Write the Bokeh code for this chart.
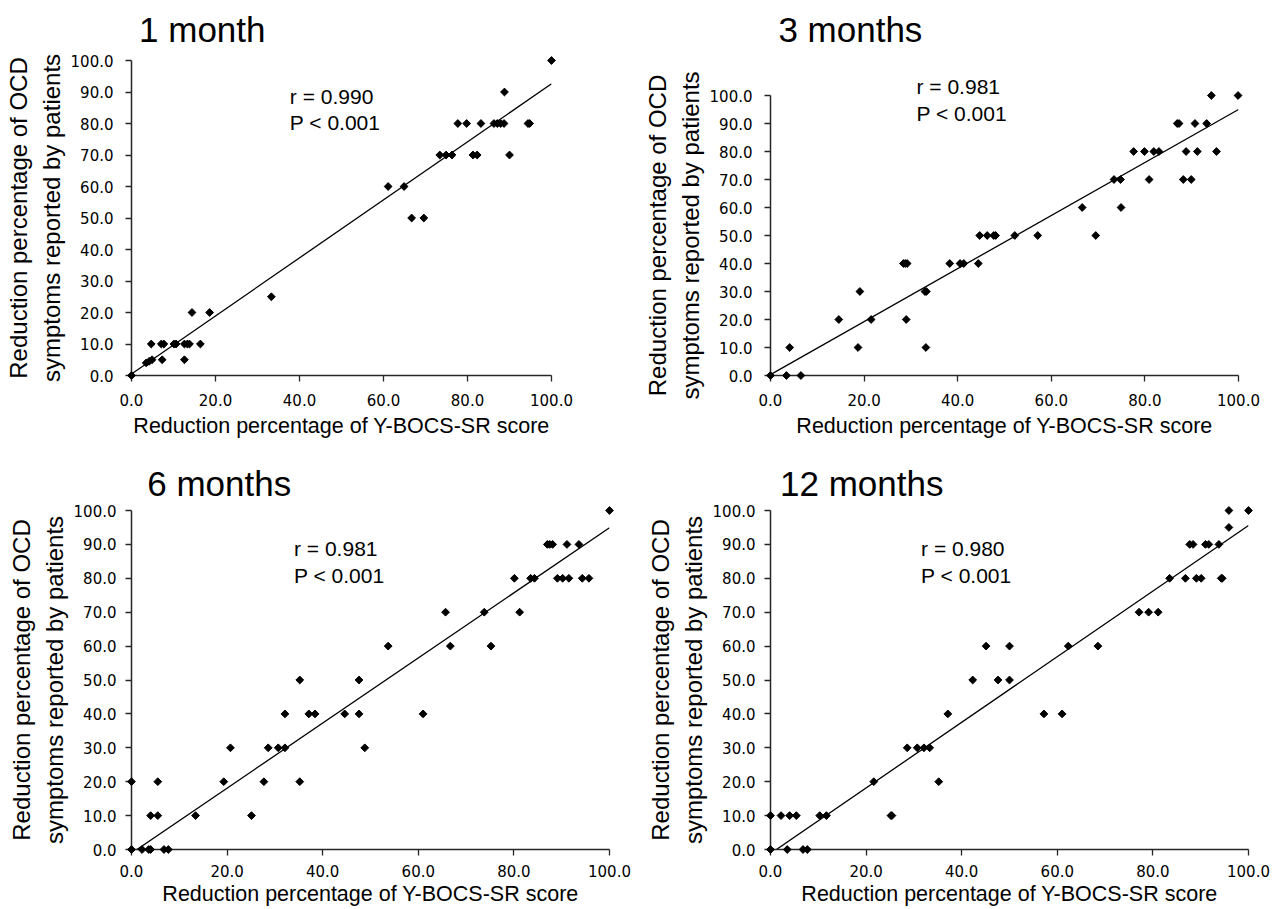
import numpy as np
from bokeh.plotting import figure
from bokeh.layouts import column, row
from bokeh.models import Range1d, FixedTicker, NumeralTickFormatter
from bokeh.core.properties import value
from bokeh.embed import file_html
from bokeh.resources import INLINE

# ---------------- data ----------------
titles = ["1 month", "3 months", "6 months", "12 months"]
r_texts = ["r = 0.990", "r = 0.981", "r = 0.981", "r = 0.980"]
p_text = "P < 0.001"
x_label = "Reduction percentage of Y-BOCS-SR score"
y_label = "Reduction percentage of OCD\nsymptoms reported by patients"
x_ticks = [0, 20, 40, 60, 80, 100]
y_ticks = [0, 10, 20, 30, 40, 50, 60, 70, 80, 90, 100]

m1_x = [0, 3.5, 4.2, 4.9, 4.7, 7.3, 7.1, 7.7, 10.1, 10.6, 12.6, 12.6, 13.3, 13.8,
        14.4, 16.4, 18.6, 33.3, 61.1, 64.9, 66.7, 69.6, 73.4, 74.9, 76.3, 81.3,
        82.3, 90.0, 77.7, 79.8, 83.2, 86.3, 87.1, 87.9, 88.7, 94.4, 94.8, 88.8, 100]
m1_y = [0, 4, 4.5, 5, 10, 5, 10, 10, 10, 10, 5, 10, 10, 10,
        20, 10, 20, 25, 60, 60, 50, 50, 70, 70, 70, 70,
        70, 70, 80, 80, 80, 80, 80, 80, 80, 80, 80, 90, 100]

m3_x = [0, 3.4, 6.5, 4.1, 14.6, 18.7, 19.1, 21.5, 28.4, 28.8, 29.2, 29.0, 33.0, 33.3,
        33.2, 38.3, 40.5, 41.3, 44.4, 44.7, 46.3, 47.7, 48.1, 52.2, 57.1, 66.6, 69.5,
        73.4, 74.8, 74.9, 77.6, 79.9, 80.9, 81.9, 83.0, 86.9, 87.3, 88.2, 89.9, 88.8,
        91.2, 90.7, 93.2, 94.2, 95.3, 99.9]
m3_y = [0, 0, 0, 10, 20, 10, 30, 20, 40, 40, 40, 20, 30, 30,
        10, 40, 40, 40, 40, 50, 50, 50, 50, 50, 50, 60, 50,
        70, 70, 60, 80, 80, 70, 80, 80, 90, 90, 70, 70, 80,
        80, 90, 90, 100, 80, 100]

m6_x = [0, 0, 2.2, 3.6, 4.0, 4.0, 5.5, 5.5, 6.8, 7.7, 13.4, 19.3, 20.7, 25.1, 27.7,
        28.6, 30.7, 32.1, 32.1, 35.2, 35.2, 37.1, 38.4, 44.6, 47.6, 47.6, 48.8, 53.7,
        61.0, 65.7, 66.7, 73.8, 75.2, 80.1, 81.2, 83.5, 84.3, 87.0, 87.5, 88.1, 89.1,
        90.2, 91.5, 91.1, 93.6, 94.3, 95.7, 100]
m6_y = [0, 20, 0, 0, 0, 10, 10, 20, 0, 0, 10, 20, 30, 10, 20,
        30, 30, 30, 40, 50, 20, 40, 40, 40, 50, 40, 30, 60,
        40, 70, 60, 70, 60, 80, 70, 80, 80, 90, 90, 90, 80,
        80, 80, 90, 90, 80, 80, 100]

m12_x = [0, 0, 2.2, 3.5, 4.0, 5.4, 6.8, 7.7, 10.3, 11.7, 21.6, 25.2, 25.4, 28.6, 30.7,
         32.1, 33.3, 35.2, 37.1, 42.3, 45.1, 47.6, 50.0, 50.0, 57.2, 61.0, 62.3, 68.5,
         77.1, 79.1, 81.1, 83.5, 86.8, 87.7, 88.4, 89.1, 90.1, 91.0, 91.7, 93.8, 94.3,
         94.5, 95.9, 95.9, 100]
m12_y = [0, 10, 10, 0, 10, 10, 0, 0, 10, 10, 20, 10, 10, 30, 30,
         30, 30, 20, 40, 50, 60, 50, 60, 50, 40, 40, 60, 60,
         70, 70, 70, 80, 80, 90, 90, 80, 80, 90, 90, 90, 80,
         80, 95, 100, 100]

# trend lines (intercept, slope)
fit_intercepts = [0.5, 0.3, -1.1, -1.2]
fit_slopes = [0.921, 0.947, 0.960, 0.968]

series_x = [m1_x, m3_x, m6_x, m12_x]
series_y = [m1_y, m3_y, m6_y, m12_y]

# ---------------- layout / style ----------------
FONT = "Liberation Sans"
TICK_FONT = "DejaVu Sans"

panel_cfg = [
    dict(w=636, h=445, bl=131, br=85, bt=60, bb=70, tx=1.8, ty=109.8,
         lx=37.7, ly=(88.7, 80.2), ls=12, als=5),
    dict(w=636, h=445, bl=134, br=34, bt=95, bb=70, tx=1.69, ty=123.7,
         lx=31.2, ly=(103.3, 93.5), ls=12, als=5),
    dict(w=636, h=464, bl=131, br=27, bt=65, bb=60, tx=3.3, ty=107.9,
         lx=34.0, ly=(88.9, 80.9), ls=9, als=2),
    dict(w=636, h=464, bl=134, br=24, bt=65, bb=60, tx=2.0, ty=107.9,
         lx=31.5, ly=(88.9, 80.9), ls=9, als=2),
]


def make_panel(i):
    c = panel_cfg[i]
    p = figure(width=c["w"], height=c["h"], title=None,
               x_range=Range1d(0, 100), y_range=Range1d(0, 100),
               output_backend="svg", toolbar_location=None,
               min_border_left=c["bl"], min_border_right=c["br"],
               min_border_top=c["bt"], min_border_bottom=c["bb"],
               frame_align=False)
    p.outline_line_color = None
    p.grid.visible = False
    p.background_fill_color = "white"
    p.border_fill_color = "white"

    p.xaxis.ticker = FixedTicker(ticks=x_ticks)
    p.yaxis.ticker = FixedTicker(ticks=y_ticks)
    for ax in (p.xaxis, p.yaxis):
        ax.formatter = NumeralTickFormatter(format="0.0")
        ax.axis_line_color = "#262626"
        ax.axis_line_width = 1.5
        ax.major_tick_line_color = "#262626"
        ax.major_tick_line_width = 1.3
        ax.major_tick_in = 0
        ax.major_tick_out = 6
        ax.minor_tick_line_color = None
        ax.major_label_text_font = TICK_FONT
        ax.major_label_text_font_size = "15px"
        ax.major_label_text_color = "black"
        ax.major_label_standoff = c["ls"]
        ax.axis_label_text_font = FONT
        ax.axis_label_text_font_style = "normal"
        ax.axis_label_text_color = "black"
    p.xaxis.axis_label = x_label
    p.xaxis.axis_label_text_font_size = "21.5px"
    p.xaxis.axis_label_standoff = c["als"]
    p.yaxis.axis_label = y_label
    p.yaxis.axis_label_text_font_size = "24px"
    p.yaxis.axis_label_standoff = 3
    p.yaxis.axis_label_text_line_height = 1.2

    b, m = fit_intercepts[i], fit_slopes[i]
    p.line([0, 100], [b, b + 100 * m], line_color="black", line_width=1.3)
    p.scatter(series_x[i], series_y[i], marker="square", size=5.5, angle=np.pi / 4,
              fill_color="black", line_color="black", level="overlay")

    # panel title (placed above the plot area)
    p.text(x=[c["tx"]], y=[c["ty"]], text=[titles[i]], text_font=value(FONT),
           text_font_size=value("35px"), text_color="black",
           text_baseline="middle", text_align="left", level="overlay")
    # statistics
    p.text(x=[c["lx"], c["lx"]], y=list(c["ly"]), text=[r_texts[i], p_text],
           text_font=value(FONT), text_font_size=value("21px"), text_color="black",
           text_baseline="middle", text_align="left", level="overlay")
    return p


panels = [make_panel(i) for i in range(4)]
layout = column(row(panels[0], panels[1], spacing=0),
                row(panels[2], panels[3], spacing=0), spacing=0)

open("out.html", "w").write(file_html(layout, INLINE))
